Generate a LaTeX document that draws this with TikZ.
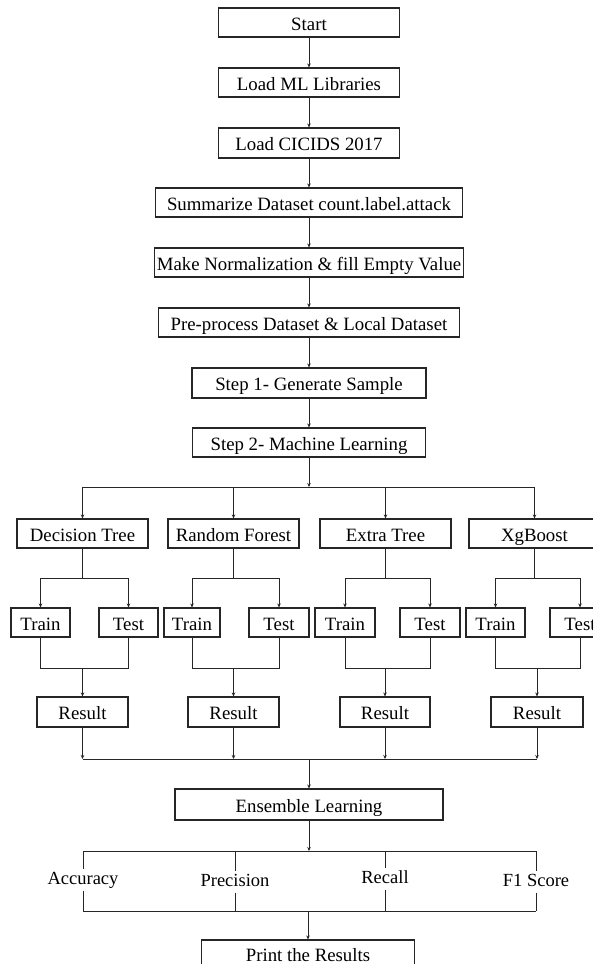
\documentclass[tikz,border=0pt]{standalone}
\usepackage{fontspec}
\setmainfont{Liberation Serif}
\usetikzlibrary{arrows.meta}
\begin{document}
\begin{tikzpicture}[x=1pt,y=-1pt,
  box/.style={draw=black!85, line width=1.1pt, inner sep=0pt, fill=white,
    font=\fontsize{18.8}{22}\selectfont, text height=15pt, text depth=0pt},
  lbl/.style={inner sep=2pt, font=\fontsize{18.5}{22}\selectfont, text height=13pt, text depth=4pt},
  ln/.style={line width=0.9pt, draw=black!85},
  arr/.style={ln, -{Stealth[length=4pt,width=3.5pt]}},
]
\useasboundingbox (0,0) rectangle (593,964);
\clip (0,0) rectangle (593,964);
\fill[white] (0,0) rectangle (593,964);

% main column
\node[box, minimum width=181pt, minimum height=29pt] (start) at (309,22.5) {Start};
\node[box, minimum width=181pt, minimum height=29pt] (lml) at (309,82.5) {Load ML Libraries};
\node[box, minimum width=181pt, minimum height=30pt] (cic) at (309,143) {Load CICIDS 2017};
\node[box, minimum width=307pt, minimum height=29pt] (sum) at (309,202.5) {Summarize Dataset count.label.attack};
\node[box, minimum width=309pt, minimum height=29pt] (norm) at (309,262.5) {Make Normalization \& fill Empty Value};
\node[box, minimum width=301pt, minimum height=29pt] (pre) at (309,322.5) {Pre-process Dataset \& Local Dataset};
\node[box, minimum width=234pt, minimum height=30pt] (st1) at (309,383) {Step 1- Generate Sample};
\node[box, minimum width=233pt, minimum height=29pt] (st2) at (309,442.5) {Step 2- Machine Learning};

\draw[arr] (start) -- (lml);
\draw[arr] (lml) -- (cic);
\draw[arr] (cic) -- (sum);
\draw[arr] (sum) -- (norm);
\draw[arr] (norm) -- (pre);
\draw[arr] (pre) -- (st1);
\draw[arr] (st1) -- (st2);

% algorithms
\node[box, minimum width=131pt, minimum height=29pt] (dt) at (82.5,533.5) {Decision Tree};
\node[box, minimum width=131pt, minimum height=29pt] (rf) at (233.5,533.5) {Random Forest};
\node[box, minimum width=131pt, minimum height=29pt] (et) at (385.5,533.5) {Extra Tree};
\node[box, minimum width=131pt, minimum height=29pt] (xg) at (534.5,533.5) {XgBoost};

\coordinate (by) at (0,487);
\draw[arr] (st2.south) -- (st2.south |- by);
\draw[ln] (dt.north |- by) -- (xg.north |- by);
\foreach \n in {dt,rf,et,xg} \draw[arr] (\n.north |- by) -- (\n.north);

% train / test
\node[box, minimum width=59pt, minimum height=29pt] (tr1) at (40.5,622.5) {Train};
\node[box, minimum width=59pt, minimum height=29pt] (te1) at (128.5,622.5) {Test};
\node[box, minimum width=56pt, minimum height=29pt] (tr2) at (192,622.5) {Train};
\node[box, minimum width=60pt, minimum height=29pt] (te2) at (279,622.5) {Test};
\node[box, minimum width=60pt, minimum height=29pt] (tr3) at (345,622.5) {Train};
\node[box, minimum width=60pt, minimum height=29pt] (te3) at (430,622.5) {Test};
\node[box, minimum width=59pt, minimum height=29pt] (tr4) at (495.5,622.5) {Train};
\node[box, minimum width=60pt, minimum height=29pt] (te4) at (580,622.5) {Test};

% results
\node[box, minimum width=91pt, minimum height=30pt] (r1) at (82.5,712) {Result};
\node[box, minimum width=91pt, minimum height=30pt] (r2) at (233.5,712) {Result};
\node[box, minimum width=90pt, minimum height=30pt] (r3) at (385,712) {Result};
\node[box, minimum width=92pt, minimum height=30pt] (r4) at (537,712) {Result};

\coordinate (sy) at (0,578);
\coordinate (jy) at (0,668);
\coordinate (cy) at (0,759);
\foreach \a/\t/\s/\r in {dt/tr1/te1/r1, rf/tr2/te2/r2, et/tr3/te3/r3, xg/tr4/te4/r4}{
  \draw[ln] (\a.south) -- (\a.south |- sy);
  \draw[ln] (\t.north |- sy) -- (\s.north |- sy);
  \draw[arr] (\t.north |- sy) -- (\t.north);
  \draw[arr] (\s.north |- sy) -- (\s.north);
  \draw[ln] (\t.south) |- (\s.south |- jy) -- (\s.south);
  \draw[arr] (\r.north |- jy) -- (\r.north);
  \draw[arr] (\r.south) -- (\r.south |- cy);
}
\draw[ln] (r1.south |- cy) -- (r4.south |- cy);

% ensemble
\node[box, minimum width=268pt, minimum height=31pt] (ens) at (309,804.5) {Ensemble Learning};
\draw[arr] (ens.north |- cy) -- (ens.north);

% metrics
\node[lbl] (acc) at (83,880) {Accuracy};
\node[lbl] (prec) at (235,882) {Precision};
\node[lbl] (rec) at (385,879) {Recall};
\node[lbl] (f1) at (536,882) {F1 Score};

\coordinate (my1) at (0,851);
\coordinate (my2) at (0,911);
\draw[arr] (ens.south) -- (ens.south |- my1);
\draw[ln] (acc.north |- my1) -- (f1.north |- my1);
\draw[ln] (acc.south |- my2) -- (f1.south |- my2);
\foreach \m in {acc,prec,rec,f1}{
  \draw[ln] (\m.north |- my1) -- (\m.north);
  \draw[ln] (\m.south) -- (\m.south |- my2);
}

% print
\node[box, minimum width=213pt, minimum height=28pt, text height=14pt] (prt) at (308,954) {Print the Results};
\draw[arr] (prt.north |- my2) -- (prt.north);
\end{tikzpicture}
\end{document}
